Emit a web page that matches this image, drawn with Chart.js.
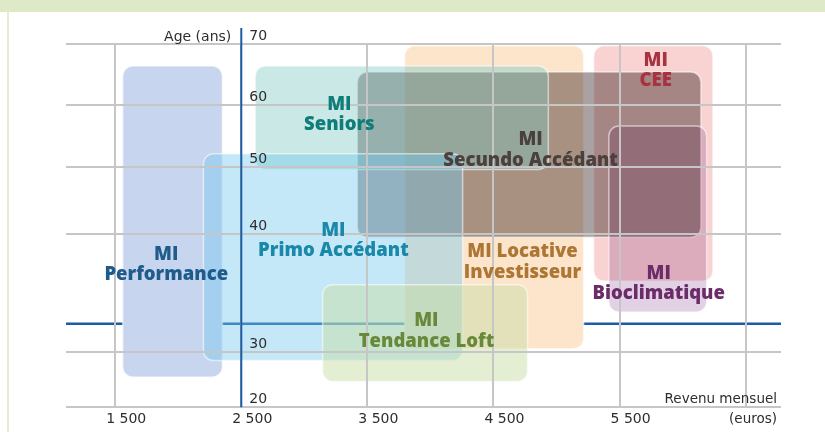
<!DOCTYPE html>
<html lang="fr">
<head>
<meta charset="utf-8">
<title>Gamme MI : âge et revenu mensuel</title>
<script src="https://cdn.jsdelivr.net/npm/chart.js@4.4.1/dist/chart.umd.min.js"></script>
<style>
  html, body { margin: 0; padding: 0; background: #fff; }
</style>
</head>
<body>
<canvas class="chart" width="825" height="432"></canvas>
<script>
// --- data ---
const programmes = ["MI Performance", "MI Locative Investisseur", "MI CEE", "MI Secundo Accédant",
                    "MI Bioclimatique", "MI Seniors", "MI Primo Accédant", "MI Tendance Loft"];
const labelLines = [["MI", "Performance"], ["MI Locative", "Investisseur"], ["MI", "CEE"], ["MI", "Secundo Accédant"],
                    ["MI", "Bioclimatique"], ["MI", "Seniors"], ["MI", "Primo Accédant"], ["MI", "Tendance Loft"]];
const revenuMin = [1560, 3795, 5295, 3420, 5415, 2610, 2200, 3145];
const revenuMax = [2350, 5215, 6240, 6145, 6190, 4935, 4255, 4770];
const ageMin = [25.5, 30.3, 36.0, 39.7, 33.4, 49.6, 28.5, 24.7];
const ageMax = [66.4, 69.7, 69.7, 65.4, 56.6, 66.4, 52.1, 35.7];
const revenuTicks = [1500, 2500, 3500, 4500, 5500, 6500];
const revenuTickLabels = ["1 500", "2 500", "3 500", "4 500", "5 500", ""];
const ageTicks = [20, 30, 40, 50, 60, 70];
const revenuRepere = 2500;
const ageRepere = 32.4;

// --- look ---
const ageTickSpots = [0, 0.151, 0.478, 0.662, 0.832, 1]; // the age axis is not evenly spaced
const boxColors = ["rgb(200,213,238)", "rgb(253,229,204)", "rgb(249,210,210)", "rgb(170,162,162)",
                   "rgb(226,208,228)", "rgba(120,197,192,0.4)", "rgba(114,200,239,0.42)", "rgba(199,222,165,0.5)"];
const boxBlend = ["source-over", "source-over", "multiply", "multiply", "multiply", "source-over", "source-over", "source-over"];
const textColors = ["#1f5c8c", "#ae7634", "#a8323f", "#4b403c", "#6b2d68", "#0f7d79", "#1a88a8", "#68893a"];
const labelRevenu = [1905, 4730, 5786, 4794, 5810, 3278, 3230, 3968];
const labelAge = [37.8, 38.0, 66.4, 53.5, 36.2, 59.2, 39.8, 32.2];
const blue = "#1d5ca4";
const axisFont = '14px "DejaVu Sans", sans-serif';

const ageToDecimal = (age) => {
  let i = 0;
  while (i < ageTicks.length - 2 && age > ageTicks[i + 1]) i++;
  const t = (age - ageTicks[i]) / (ageTicks[i + 1] - ageTicks[i]);
  return ageTickSpots[i] + t * (ageTickSpots[i + 1] - ageTickSpots[i]);
};
const decimalToAge = (d) => {
  let i = 0;
  while (i < ageTickSpots.length - 2 && d > ageTickSpots[i + 1]) i++;
  const t = (d - ageTickSpots[i]) / (ageTickSpots[i + 1] - ageTickSpots[i]);
  return ageTicks[i] + t * (ageTicks[i + 1] - ageTicks[i]);
};

class AgeScale extends Chart.LinearScale {
  getPixelForValue(value) {
    return this.getPixelForDecimal(ageToDecimal(value));
  }
  getValueForPixel(pixel) {
    return decimalToAge(this.getDecimalForPixel(pixel));
  }
}
AgeScale.id = "ageScale";
AgeScale.defaults = Chart.LinearScale.defaults;
Chart.register(AgeScale);

const roundBox = (ctx, x, y, w, h, r) => {
  ctx.beginPath();
  ctx.moveTo(x + r, y);
  ctx.arcTo(x + w, y, x + w, y + h, r);
  ctx.arcTo(x + w, y + h, x, y + h, r);
  ctx.arcTo(x, y + h, x, y, r);
  ctx.arcTo(x, y, x + w, y, r);
  ctx.closePath();
};

const boxesPlugin = {
  id: "boxes",
  beforeDraw(chart) {
    const ctx = chart.ctx;
    ctx.save();
    ctx.fillStyle = "#fff";
    ctx.fillRect(0, 0, chart.width, chart.height);
    ctx.fillStyle = "#deeac7";
    ctx.fillRect(0, 0, chart.width, 12);
    ctx.fillStyle = "#e3edd2";
    ctx.fillRect(7, 12, 2, chart.height - 12);
    ctx.restore();
  },
  beforeDatasetsDraw(chart) {
    const { ctx, chartArea, scales: { x, y } } = chart;
    ctx.save();
    // horizontal marker, under the boxes
    const yr = y.getPixelForValue(ageRepere);
    ctx.strokeStyle = blue;
    ctx.lineWidth = 2.5;
    ctx.beginPath();
    ctx.moveTo(chartArea.left, yr);
    ctx.lineTo(chartArea.right, yr);
    ctx.stroke();

    chart.data.datasets.forEach((ds, i) => {
      const [a, b] = ds.data;
      const left = x.getPixelForValue(a.x);
      const right = x.getPixelForValue(b.x);
      const top = y.getPixelForValue(b.y);
      const bottom = y.getPixelForValue(a.y);
      roundBox(ctx, left, top, right - left, bottom - top, 10);
      ctx.globalCompositeOperation = boxBlend[i];
      ctx.fillStyle = boxColors[i];
      ctx.fill();
      ctx.globalCompositeOperation = "source-over";
      ctx.strokeStyle = "rgba(255,255,255,0.55)";
      ctx.lineWidth = 1.5;
      ctx.stroke();
    });
    ctx.restore();
  },
  afterDraw(chart) {
    const { ctx, chartArea, scales: { x, y } } = chart;
    ctx.save();
    // vertical marker, over everything
    const xr = x.getPixelForValue(revenuRepere);
    ctx.strokeStyle = blue;
    ctx.lineWidth = 2;
    ctx.beginPath();
    ctx.moveTo(xr, chartArea.top - 16);
    ctx.lineTo(xr, chartArea.bottom);
    ctx.stroke();

    // age tick labels beside the marker
    ctx.font = axisFont;
    ctx.fillStyle = "#2e2e2e";
    ctx.textAlign = "left";
    ctx.textBaseline = "alphabetic";
    ageTicks.forEach((a) => {
      ctx.fillText(String(a), xr + 8, y.getPixelForValue(a) - 4);
    });
    ctx.textAlign = "right";
    ctx.fillText("Age (ans)", xr - 10, chartArea.top - 3);
    ctx.font = '13.5px "DejaVu Sans", sans-serif';
    ctx.fillText("Revenu mensuel", chartArea.right - 4, chartArea.bottom - 4);
    ctx.fillText("(euros)", chartArea.right - 4, chartArea.bottom + 16);

    // programme names
    ctx.textAlign = "center";
    ctx.font = '800 18.5px "Open Sans", sans-serif';
    labelLines.forEach((lines, i) => {
      const cx = x.getPixelForValue(labelRevenu[i]);
      const cy = y.getPixelForValue(labelAge[i]);
      ctx.fillStyle = textColors[i];
      lines.forEach((line, k) => ctx.fillText(line, cx, cy + k * 20.5));
    });
    ctx.restore();
  }
};

const gridStyle = { color: "#c6c6c6", lineWidth: 2, drawTicks: false, z: 1 };

new Chart(document.querySelector(".chart"), {
  type: "scatter",
  data: {
    datasets: programmes.map((name, i) => ({
      label: name,
      data: [{ x: revenuMin[i], y: ageMin[i] }, { x: revenuMax[i], y: ageMax[i] }],
      pointRadius: 0,
      pointHoverRadius: 0
    }))
  },
  options: {
    responsive: false,
    animation: false,
    devicePixelRatio: 1,
    layout: { padding: { left: 66, right: 44, top: 44, bottom: 0 } },
    plugins: { legend: { display: false }, tooltip: { enabled: false } },
    events: [],
    scales: {
      x: {
        type: "linear",
        min: 1110,
        max: 6780,
        afterBuildTicks: (scale) => { scale.ticks = revenuTicks.map((v) => ({ value: v })); },
        grid: gridStyle,
        border: { display: false },
        ticks: {
          autoSkip: false,
          maxRotation: 0,
          padding: 4,
          labelOffset: 11,
          color: "#2e2e2e",
          font: { family: '"DejaVu Sans", sans-serif', size: 14 },
          callback: (v, i) => revenuTickLabels[i]
        }
      },
      y: {
        type: "ageScale",
        min: 20,
        max: 70,
        afterBuildTicks: (scale) => { scale.ticks = ageTicks.map((v) => ({ value: v })); },
        grid: gridStyle,
        border: { display: false },
        ticks: { display: false }
      }
    }
  },
  plugins: [boxesPlugin]
});
</script>
</body>
</html>
